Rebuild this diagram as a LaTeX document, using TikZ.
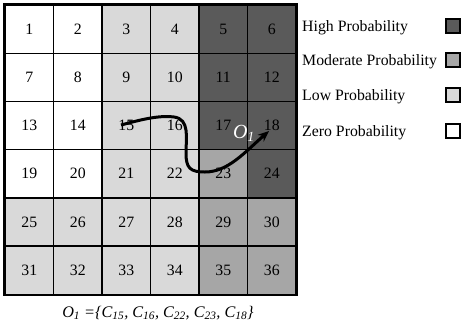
\documentclass[tikz,border=0pt]{standalone}
\usepackage{fontspec}
\setmainfont{Liberation Serif}
\usetikzlibrary{arrows.meta}
\definecolor{hc}{HTML}{5A5A5A}
\definecolor{mc}{HTML}{A6A6A6}
\definecolor{lc}{HTML}{D9D9D9}
\definecolor{zc}{HTML}{FFFFFF}
\begin{document}
\begin{tikzpicture}[x=1bp,y=-1bp,
  cell/.style={draw=black, line width=1.4bp, minimum width=48.5bp, minimum height=48.2bp, inner sep=0pt, font=\fontsize{15.8bp}{18bp}\selectfont},
  legtext/.style={anchor=base west, inner sep=0pt, font=\fontsize{15.8bp}{18bp}\selectfont},
  legbox/.style={draw=black, line width=1.2bp, minimum size=14bp, inner sep=0pt},
  patharrow/.style={line width=3bp, -{Stealth[length=11bp,width=9bp]}}]
\path[fill=white, use as bounding box] (0,0) rectangle (462,331);
\foreach \c [count=\i from 0] in {zc,zc,lc,lc,hc,hc, zc,zc,lc,lc,hc,hc, zc,zc,lc,lc,hc,hc, zc,zc,lc,lc,mc,hc, lc,lc,lc,lc,mc,mc, lc,lc,lc,lc,mc,mc} {
  \pgfmathtruncatemacro\row{floor(\i/6)}
  \pgfmathtruncatemacro\col{mod(\i,6)}
  \pgfmathtruncatemacro\n{\i+1}
  \node[cell, fill=\c] (c\n) at ({5+48.5*\col+24.25},{5+48.2*\row+24.1}) {\n};
}
\draw[line width=2bp] (c1.north west) rectangle (c36.south east);
\coordinate (p0) at (121,125);
\coordinate (p1) at (269,131);
\draw[patharrow] (p0) .. controls (140,120) and (158,115) .. (174,117)
  .. controls (190,119) and (186,138) .. (186,153)
  .. controls (186,168) and (190,172) .. (205,172)
  .. controls (228,172) and (245,152) .. (p1);
\node[text=white, inner sep=0pt, font=\fontsize{20bp}{22bp}\selectfont\itshape] (o1) at (244,133) {O\textsubscript{1}};
\foreach \t/\c/\y [count=\k] in {High Probability/hc/26, Moderate Probability/mc/60, Low Probability/lc/95, Zero Probability/zc/131} {
  \node[legtext] (t\k) at (302,\y+5) {\t};
  \node[legbox, fill=\c] (b\k) at (453,\y) {};
}
\node[anchor=base, inner sep=0pt, font=\fontsize{16.2bp}{18bp}\selectfont\itshape] (cap) at (158,317) {O\textsubscript{1} =\{C\textsubscript{15}, C\textsubscript{16}, C\textsubscript{22}, C\textsubscript{23}, C\textsubscript{18}\}};
\end{tikzpicture}
\end{document}
